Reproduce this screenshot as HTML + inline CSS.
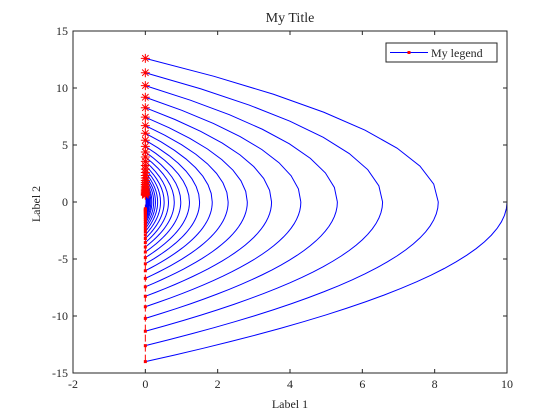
<!DOCTYPE html>
<html><head><meta charset="utf-8"><style>
body{margin:0;background:#fff;}
svg{display:block;font-family:"Liberation Serif",serif;}
</style></head><body>
<svg id="chart" width="560" height="420" viewBox="0 0 560 420">
<rect width="560" height="420" fill="#fff"/>
<text x="290" y="22" font-size="14" text-anchor="middle" fill="#262626">My Title</text>
<g id="plot"></g>
<g id="axes"></g>
<text x="290" y="408" font-size="12" text-anchor="middle" fill="#262626">Label 1</text>
<text x="0" y="0" font-size="12" text-anchor="middle" fill="#262626" transform="translate(40,204) rotate(-90)">Label 2</text>
<g>
<rect x="386" y="43" width="111" height="19" fill="#fff" stroke="#262626" stroke-width="1"/>
<line x1="390" y1="52.5" x2="428" y2="52.5" stroke="#0000ff" stroke-width="1"/>
<rect x="407.5" y="51" width="3" height="3" fill="#ff0000"/>
<text x="431" y="57" font-size="12" fill="#262626">My legend</text>
</g>
</svg>
<script>
const heights = [14, 12.6, 11.34, 10.21, 9.19, 8.27, 7.44, 6.70, 6.03, 5.42, 4.88, 4.39, 3.95, 3.56, 3.20, 2.88, 2.59, 2.33, 2.10, 1.89, 1.70, 1.53, 1.38, 1.24, 1.12, 1.00, 0.90, 0.81, 0.73, 0.66, 0.59];
const peaks = [10, 8.1, 6.56, 5.31, 4.30, 3.49, 2.82, 2.29, 1.85, 1.50, 1.22, 0.98, 0.80, 0.64, 0.52, 0.42, 0.34, 0.28, 0.23, 0.18, 0.15, 0.12, 0.10, 0.08, 0.06, 0.05, 0.04, 0.03, 0.03, 0.02, 0.02];
const xTicks = [-2, 0, 2, 4, 6, 8, 10];
const yTicks = [-15, -10, -5, 0, 5, 10, 15];
const xMin = -2, xMax = 10, yMin = -15, yMax = 15;
const L = 73, R = 507, T = 31, B = 373;
const NS = 'http://www.w3.org/2000/svg';
function sx(v){return L + (v - xMin) / (xMax - xMin) * (R - L);}
function sy(v){return B - (v - yMin) / (yMax - yMin) * (B - T);}
function mk(tag, attrs, parent){const e = document.createElementNS(NS, tag); for (const k in attrs) e.setAttribute(k, attrs[k]); parent.appendChild(e); return e;}
const plot = document.getElementById('plot');
const axes = document.getElementById('axes');
const clip = mk('clipPath', {id: 'clp'}, plot);
mk('rect', {x: L, y: T, width: R - L, height: B - T}, clip);
const g = mk('g', {'clip-path': 'url(#clp)'}, plot);
const rl = mk('line', {x1: sx(0), y1: sy(-heights[0]), x2: sx(0), y2: sy(0), stroke: '#ff0000', 'stroke-width': 1, 'stroke-dasharray': '7,3'}, g);


function arc(h, p, sign, n){
  let d = '';
  for (let i = 0; i <= n; i++){
    const u = i / n;
    const y = sign * h * (1 - u);
    const x = p * (1 - (y / h) * (y / h));
    d += (i ? 'L' : 'M') + sx(x).toFixed(2) + ',' + sy(y).toFixed(2);
  }
  return d;
}
for (let k = 0; k < heights.length; k++){
  const lo = mk('path', {d: arc(heights[k], peaks[k], -1, 24), fill: 'none', stroke: '#0000ff', 'stroke-width': 1}, g);
  
  
  if (k > 0){
    const up = mk('path', {d: arc(heights[k], peaks[k], 1, 8), fill: 'none', stroke: '#0000ff', 'stroke-width': 1}, g);
    
    
  }
}
for (let k = 0; k < heights.length; k++){
  const dot = mk('rect', {x: sx(0) - 1.5, y: sy(-heights[k]) - 1.5, width: 3, height: 3, fill: '#ff0000'}, g);
  
  
  if (k > 0){
    const cx = sx(0), cy = sy(heights[k]), r = 4.5;
    const st = mk('path', {d: `M${cx-r},${cy}H${cx+r}M${cx},${cy-r}V${cy+r}M${cx-3.2},${cy-3.2}L${cx+3.2},${cy+3.2}M${cx-3.2},${cy+3.2}L${cx+3.2},${cy-3.2}`, stroke: '#ff0000', 'stroke-width': 1, fill: 'none'}, g);
    
    
  }
}
const box = mk('rect', {x: L, y: T, width: R - L, height: B - T, fill: 'none', stroke: '#262626', 'stroke-width': 1}, axes);


xTicks.forEach(v => {
  const x = sx(v);
  const t = mk('path', {d: `M${x},${B}V${B-4}M${x},${T}V${T+4}`, stroke: '#262626', 'stroke-width': 1}, axes);
  
  
  const lb = mk('text', {x: x, y: B + 15, 'font-size': 12, 'text-anchor': 'middle', fill: '#262626'}, axes);
  lb.textContent = v;
  
  
});
yTicks.forEach(v => {
  const y = sy(v);
  const t = mk('path', {d: `M${L},${y}H${L+4}M${R},${y}H${R-4}`, stroke: '#262626', 'stroke-width': 1}, axes);
  
  
  const lb = mk('text', {x: L - 5, y: y + 4, 'font-size': 12, 'text-anchor': 'end', fill: '#262626'}, axes);
  lb.textContent = v;
  
  
});
</script>
</body></html>
